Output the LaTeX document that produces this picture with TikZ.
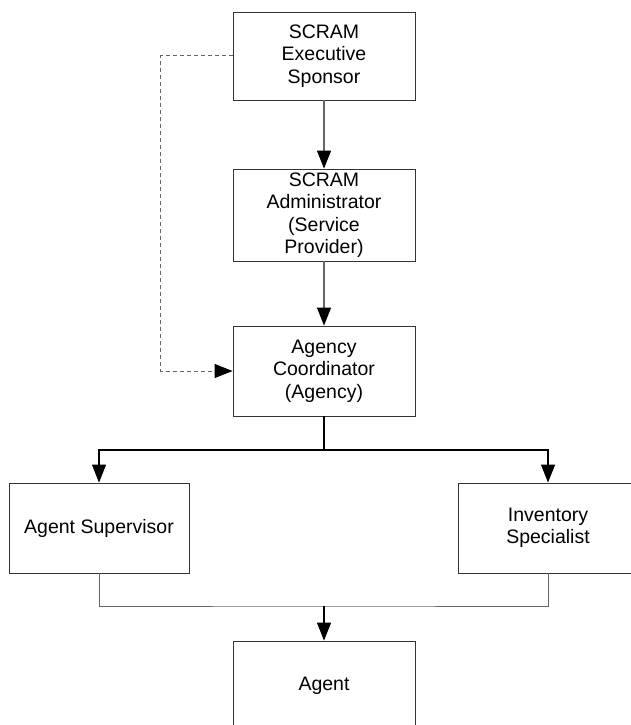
\documentclass[tikz,border=0pt]{standalone}
\usepackage{fontspec}
\setmainfont{Liberation Sans}
\usetikzlibrary{arrows.meta}
\begin{document}
\begin{tikzpicture}[x=1pt,y=-1pt,
  box/.style={draw=black!80,line width=0.9pt,fill=white,rectangle,
    minimum width=182pt,minimum height=90pt,inner sep=0pt,align=center,
    font=\fontsize{19.5}{22.5}\selectfont},
  conn/.style={draw=black!60,line width=1.3pt},
  tip/.style={-{Triangle[length=18pt,width=14pt,color=black]}},
  dashconn/.style={draw=black!60,line width=1pt,dash pattern=on 4pt off 3pt}]
\useasboundingbox (0,0) rectangle (631,725);
\fill[white] (0,0) rectangle (631,725);

\node[box,minimum height=88pt] (sponsor) at (324,56) {SCRAM\\Executive\\Sponsor};
\node[box,minimum height=92pt] (admin) at (324,215) {SCRAM\\Administrator\\(Service\\Provider)};
\node[box] (coord) at (324,371) {Agency\\Coordinator\\(Agency)};
\node[box,minimum width=180pt] (super) at (99,528) {Agent Supervisor};
\node[box,minimum width=180pt] (invent) at (548,528) {Inventory\\Specialist};
\node[box] (agent) at (324,686) {Agent};

\coordinate (split) at (324,450);
\coordinate (merge) at (324,606);

% reporting lines
\draw[conn,tip] (sponsor) -- (admin);
\draw[conn,tip] (admin) -- (coord);
\draw[dashconn,tip] (sponsor.west) -- ++(-72,0) |- (coord.west);

% branch down to the two roles
\draw[draw=black,line width=1.3pt] (coord.south) -- (split);
\draw[draw=black,line width=1.3pt,tip] (split) -| (super.north);
\draw[draw=black,line width=1.3pt,tip] (split) -| (invent.north);

% both roles lead to the agent
\draw[draw=black!60,line width=1pt] (super.south) |- (merge) -| (invent.south);
\draw[draw=black,line width=1.3pt,tip] (merge) -- (agent.north);
\end{tikzpicture}
\end{document}
